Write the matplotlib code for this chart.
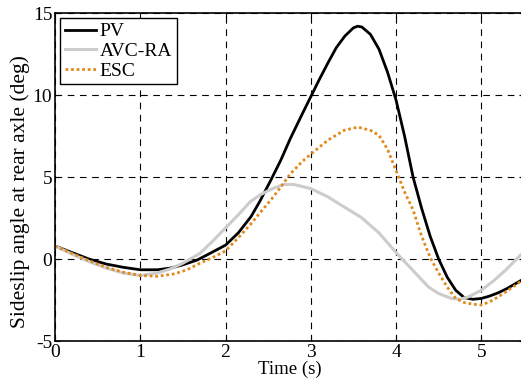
import matplotlib
matplotlib.use("Agg")
import matplotlib.pyplot as plt

plt.rcParams['font.family'] = ['Liberation Serif', 'DejaVu Serif']
plt.rcParams['axes.unicode_minus'] = False

# values
t_pv = [0, 0.2, 0.4, 0.6, 0.8, 1.0, 1.2, 1.35, 1.5, 1.67, 1.8, 2.0, 2.15, 2.3, 2.4, 2.53,
        2.65, 2.76, 2.9, 3.0, 3.1, 3.2, 3.3, 3.4, 3.5, 3.55, 3.6, 3.7, 3.8, 3.9, 4.0, 4.1,
        4.2, 4.3, 4.4, 4.5, 4.6, 4.7, 4.8, 4.9, 5.0, 5.1, 5.2, 5.3, 5.4, 5.5]
pv = [0.8, 0.4, 0.0, -0.3, -0.5, -0.65, -0.65, -0.55, -0.35, -0.05, 0.3, 0.85, 1.6, 2.6,
      3.5, 4.8, 6.05, 7.35, 8.85, 9.9, 10.95, 11.95, 12.9, 13.6, 14.1, 14.2, 14.15, 13.7,
      12.8, 11.4, 9.7, 7.5, 5.0, 3.1, 1.4, 0.0, -1.1, -1.9, -2.35, -2.45, -2.4, -2.25,
      -2.05, -1.8, -1.5, -1.2]

t_avc = [0, 0.2, 0.4, 0.6, 0.8, 1.0, 1.2, 1.35, 1.5, 1.7, 1.85, 2.0, 2.15, 2.29, 2.4, 2.53,
         2.68, 2.8, 3.0, 3.2, 3.4, 3.59, 3.8, 4.0, 4.2, 4.38, 4.5, 4.65, 4.75, 4.85, 5.0,
         5.15, 5.3, 5.47, 5.5]
avc_ra = [0.8, 0.3, -0.15, -0.55, -0.85, -1.0, -0.85, -0.6, -0.25, 0.35, 1.1, 1.9, 2.7,
          3.5, 3.9, 4.25, 4.55, 4.55, 4.3, 3.8, 3.15, 2.55, 1.6, 0.4, -0.7, -1.7, -2.1,
          -2.4, -2.45, -2.3, -1.9, -1.3, -0.6, 0.3, 0.4]

t_esc = [0, 0.2, 0.4, 0.6, 0.8, 1.0, 1.2, 1.4, 1.55, 1.7, 1.85, 2.0, 2.15, 2.29, 2.4, 2.53,
         2.65, 2.76, 2.9, 3.0, 3.2, 3.39, 3.55, 3.7, 3.8, 3.9, 4.0, 4.1, 4.2, 4.3, 4.4, 4.5,
         4.6, 4.7, 4.8, 4.9, 5.0, 5.1, 5.2, 5.3, 5.4, 5.5]
esc = [0.8, 0.35, -0.1, -0.5, -0.8, -1.0, -1.05, -0.9, -0.65, -0.25, 0.1, 0.5, 1.3, 2.1,
       2.8, 3.6, 4.4, 5.2, 5.95, 6.4, 7.25, 7.85, 8.05, 7.85, 7.55, 6.7, 5.4, 4.1, 3.0,
       1.4, 0.1, -0.85, -1.7, -2.4, -2.65, -2.75, -2.8, -2.6, -2.3, -1.95, -1.6, -1.2]

fig = plt.figure(figsize=(5.21, 3.85), dpi=100)
ax = fig.add_axes([0.1056, 0.114, 0.9, 0.852])

ax.plot(t_pv, pv, color='black', lw=2, label='PV')
ax.plot(t_avc, avc_ra, color='#cccccc', lw=2.2, label='AVC-RA')
ax.plot(t_esc, esc, color='#e08a1e', lw=2, ls=(0, (1, 1)), label='ESC')

ax.set_xlim(0, 5.5)
ax.set_ylim(-5, 15)
ax.set_xticks([0, 1, 2, 3, 4, 5])
ax.set_yticks([-5, 0, 5, 10, 15])
ax.grid(True, color='black', ls=(0, (6, 5)), lw=0.8)
ax.tick_params(direction='in', labelsize=14, top=True, right=True, pad=2)
ax.set_xlabel('Time (s)', fontsize=13.5, labelpad=0)
ax.set_ylabel('Sideslip angle at rear axle (deg)', fontsize=15.5, va='center')
ax.yaxis.set_label_coords(-0.074, 0.457)
for s in ax.spines.values():
    s.set_linewidth(1.2)

leg = ax.legend(loc='upper left', fontsize=14, handlelength=1.6, handletextpad=0.2,
                labelspacing=0.1, borderpad=0.25, fancybox=False, framealpha=1,
                borderaxespad=0.25)
leg.get_frame().set_edgecolor('black')
leg.get_frame().set_linewidth(1.0)

fig.savefig('out.png', dpi=100)
